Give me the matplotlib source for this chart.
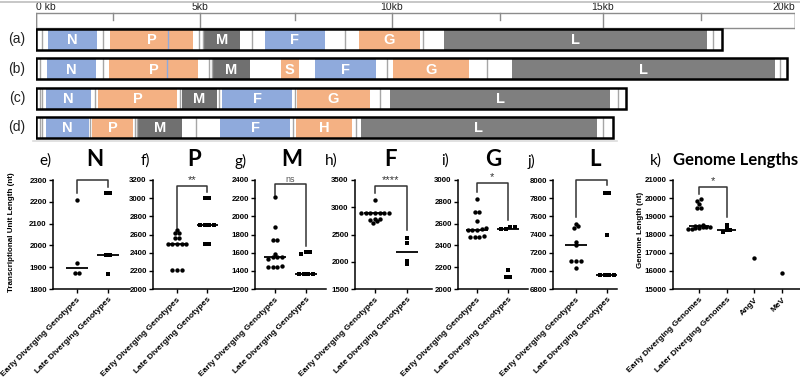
import numpy as np
import matplotlib.pyplot as plt
from matplotlib.patches import Rectangle
from matplotlib.lines import Line2D

plt.rcParams['font.family'] = ['Liberation Sans', 'DejaVu Sans']

W, H = 800, 378

# ---------------- genome maps (positions in kb) ----------------
ruler_kb = [0, 2.5, 5, 7.5, 10, 12.5, 15, 17.5, 20]
ruler_pos = [0, 77, 164, 259, 356, 464, 567, 665, 759]  # ruler in the source is not linear
ruler_labels = {0: '0 kb', 5: '5kb', 10: '10kb', 15: '15kb', 20: '20kb'}

row_names = ['(a)', '(b)', '(c)', '(d)']
genome_len = [18.06, 19.79, 15.59, 15.26]
genes_a = [('N', 0.39, 1.98), ('P', 2.40, 4.80), ('M', 5.11, 6.05), ('F', 6.71, 8.27),
           ('G', 9.15, 10.65), ('L', 11.20, 17.66)]
genes_b = [('N', 0.36, 1.95), ('P', 2.37, 4.94), ('M', 5.34, 6.32), ('S', 7.13, 7.60),
           ('F', 8.02, 9.59), ('G', 10.02, 11.78), ('L', 12.79, 19.47)]
genes_c = [('N', 0.32, 1.79), ('P', 2.01, 4.34), ('M', 4.48, 5.45), ('F', 5.58, 7.42),
           ('G', 7.55, 9.43), ('L', 9.95, 15.18)]
genes_d = [('N', 0.32, 1.72), ('P', 1.82, 3.07), ('M', 3.22, 4.48), ('F', 5.53, 7.37),
           ('H', 7.53, 8.97), ('L', 9.20, 14.85)]
junc_a = [0.19, 2.18, 4.97, 5.08, 6.37, 8.79, 10.72, 17.82]
junc_b = [0.13, 2.18, 5.24, 5.32, 9.87, 12.20, 19.60]
junc_c = [0.13, 0.19, 1.92, 4.43, 5.50, 7.50, 9.69, 15.38]
junc_d = [0.13, 0.19, 1.75, 3.13, 3.19, 4.89, 7.45, 9.08, 15.00]
p_split = [4.08, 4.05, None, None]

gene_colors = {'N': '#8faadc', 'F': '#8faadc', 'P': '#f4b183', 'G': '#f4b183',
               'S': '#f4b183', 'H': '#f4b183', 'M': '#707070', 'L': '#7f7f7f'}

# ---------------- transcriptional unit lengths (nt) ----------------
cats = ['Early Diverging Genotypes', 'Late Diverging Genotypes']
early_N = [2210, 1918, 1872, 1872]
late_N = [2242, 2242, 1956, 1956, 1869]
early_P = [2650, 2620, 2620, 2565, 2565, 2500, 2500, 2500, 2500, 2500, 2210, 2210, 2210]
late_P = [3000, 3000, 2700, 2700, 2700, 2700, 2500, 2500]
early_M = [2210, 1880, 1735, 1735, 1580, 1548, 1548, 1548, 1530, 1451, 1445, 1445, 1445]
late_M = [1590, 1605, 1605, 1360, 1360, 1360, 1360]
early_F = [3130, 2890, 2890, 2890, 2890, 2890, 2890, 2890, 2790, 2790, 2760, 2750, 2710]
late_F = [2440, 2350, 2010, 1960]
early_G = [2830, 2710, 2710, 2625, 2560, 2550, 2545, 2545, 2540, 2485, 2480, 2480, 2475]
late_G = [2565, 2555, 2555, 2565, 2170, 2110, 2110]
early_L = [7515, 7490, 7470, 7320, 7285, 7110, 7110, 7110, 7035]
late_L = [7860, 7860, 7390, 6955, 6955, 6955, 6955]

genome_cats = ['Early Diverging Genomes', 'Later Diverging Genomes', 'AngV', 'MeV']
early_genomes = [19950, 19850, 19700, 19480, 19460, 18520, 18480, 18450, 18420, 18400,
                 18390, 18370, 18350, 18330, 18300]
later_genomes = [18500, 18300, 18250, 18230, 18150]
angv = [16730]
mev = [15890]

fig = plt.figure(figsize=(8, 3.78), dpi=100)


def px(x0, y0, x1, y1):
    return [x0 / W, 1 - y1 / H, (x1 - x0) / W, (y1 - y0) / H]


# separator lines
fig.add_artist(Line2D([0, 1], [1 - 2 / H] * 2, color='#bdbdbd', lw=1.2))
fig.add_artist(Line2D([33 / W, 617 / W], [1 - 141 / H] * 2, color='#dcdcdc', lw=1.2))

top = fig.add_axes(px(36, 0, 795, 140))
fwd = lambda x: np.interp(x, ruler_kb, ruler_pos)
inv = lambda p: np.interp(p, ruler_pos, ruler_kb)
top.set_xscale('function', functions=(fwd, inv))
top.set_xlim(0, 20)
top.set_ylim(3.43, -1.347)
top.axis('off')

# ruler
top.add_patch(Rectangle((0, -0.904), 20, 0.512, fill=False, ec='#8c8c8c', lw=1))
for k in ruler_kb:
    y1 = -0.392 if k % 5 == 0 else -0.65
    top.plot([k, k], [-0.904, y1], color='#8c8c8c', lw=1)
    if k in ruler_labels:
        ha = 'left' if k == 0 else ('right' if k == 20 else 'center')
        top.text(k, -1.1, ruler_labels[k], ha=ha, va='center', fontsize=7.5, color='#222222')

h = 0.716
for i, (name, length, genes, junc, ps) in enumerate(zip(row_names, genome_len,
                                                         [genes_a, genes_b, genes_c, genes_d],
                                                         [junc_a, junc_b, junc_c, junc_d],
                                                         p_split)):
    y0 = i - h / 2
    for g, s, e in genes:
        top.add_patch(Rectangle((s, y0), e - s, h, color=gene_colors[g], lw=0))
        xm = inv((fwd(s) + fwd(e)) / 2)
        top.text(xm, i + 0.03, g, ha='center', va='center', color='white',
                 fontsize=10.5, fontweight='bold')
    top.vlines(junc, y0, y0 + h, color='#a6a6a6', lw=1)
    if ps is not None:
        top.vlines([ps], y0, y0 + h, color='#8faadc', lw=1)
    top.add_patch(Rectangle((0, y0), length, h, fill=False, ec='black', lw=1.8, zorder=4))
    top.text(-0.025, i, name, transform=top.get_yaxis_transform(), ha='center', va='center',
             fontsize=10, color='#222222')


# ---------------- scatter panels ----------------
def swarm(vals, tol, step):
    vals = np.asarray(vals, float)
    order = np.argsort(vals)
    offs = np.zeros(len(vals))
    groups, cur = [], [order[0]]
    for idx in order[1:]:
        if vals[idx] - vals[cur[0]] <= tol:
            cur.append(idx)
        else:
            groups.append(cur)
            cur = [idx]
    groups.append(cur)
    for grp in groups:
        n = len(grp)
        for k, idx in enumerate(grp):
            offs[idx] = (k - (n - 1) / 2) * step
    return offs


panels = [
    ('e)', 'N', [early_N, late_N], (1800, 2300, 100), '', (2300, 2240, 2268)),
    ('f)', 'P', [early_P, late_P], (2000, 3200, 200), '**', (3134, 2672, 3068)),
    ('g)', 'M', [early_M, late_M], (1200, 2400, 200), 'ns', (2352, 2240, 1671)),
    ('h)', 'F', [early_F, late_F], (1500, 3500, 500), '****', (3389, 3265, 2580)),
    ('i)', 'G', [early_G, late_G], (2000, 3000, 200), '*', (2975, 2890, 2630)),
    ('j)', 'L', [early_L, late_L], (6800, 8000, 200), '', (8000, 7590, 7945)),
    ('k)', 'Genome Lengths', [early_genomes, later_genomes, angv, mev], (15000, 21000, 1000), '*',
     (20630, 20220, 18940)),
]
# pixel layout: axis left, axis right, xlim, letter x, title x
layout = [
    (53, 130, (-0.774, 1.71), 45, 95),
    (153, 232, (-0.8, 1.83), 145, 194),
    (255, 326, (-0.645, 1.65), 241, 292),
    (355, 432, (-0.625, 1.78), 331, 391),
    (458, 528, (-0.61, 1.645), 445, 493),
    (553, 617, (-0.74, 1.32), 531, 595),
    (673, 800, (-0.94, 3.65), 656, 736),
]

for (letter, title, groups, (lo, hi, step), sig, (btop, bl, br)), (l, r, xl, lx, tx) in zip(panels, layout):
    ax = fig.add_axes(px(l, 180, r, 289))
    ax.set_xlim(*xl)
    ax.set_ylim(lo, hi)
    ax.set_yticks(np.arange(lo, hi + 1, step))
    unit_px = (r - l) / (xl[1] - xl[0])
    tol = 2.5 * (hi - lo) / 109
    dx = (3.6 if len(groups) > 2 else 4.6) / unit_px
    for j, vals in enumerate(groups):
        marker = 's' if j == 1 else 'o'
        xs = j + swarm(vals, tol, dx)
        ax.scatter(xs, vals, s=10, marker=marker, color='black', linewidths=0, zorder=3,
                   clip_on=False)
        if len(vals) > 1:
            ax.hlines(np.median(vals), j - 0.35, j + 0.35, color='black', lw=1.3, zorder=2)
    ax.plot([0, 0, 1, 1], [bl, btop, btop, br], color='#333333', lw=1.1, clip_on=False)
    if sig:
        ax.annotate(sig, (0.5, btop), xytext=(0, 0.5), textcoords='offset points',
                    ha='center', va='bottom', fontsize=6.5 if sig == 'ns' else 8,
                    color='#555555' if sig == 'ns' else '#333333', annotation_clip=False)
    labels = genome_cats if len(groups) > 2 else cats
    ax.set_xticks(range(len(groups)))
    ax.set_xticklabels(labels, rotation=45, ha='right', rotation_mode='anchor',
                       fontsize=6, fontweight='bold')
    for t in ax.get_yticklabels():
        t.set_fontweight('bold')
    ax.tick_params(axis='y', labelsize=5.7, length=3, width=1, pad=1.5)
    ax.tick_params(axis='x', length=3, width=1, pad=2)
    for s in ['top', 'right']:
        ax.spines[s].set_visible(False)
    for s in ['left', 'bottom']:
        ax.spines[s].set_linewidth(1.1)
    fig.text(lx / W, 1 - 161 / H, letter, ha='center', va='center', fontsize=11,
             family=['Lato', 'DejaVu Sans'])
    fig.text(tx / W, 1 - 160 / H, title, ha='center', va='center',
             fontsize=12 if len(title) > 1 else 16, fontweight='bold',
             family=['Lato', 'DejaVu Sans'])

fig.text(12 / W, 1 - 232 / H, 'Transcriptional Unit Length (nt)', rotation=90,
         ha='center', va='center', fontsize=5.8, fontweight='bold')
fig.text(641 / W, 1 - 230 / H, 'Genome Length (nt)', rotation=90,
         ha='center', va='center', fontsize=5.8, fontweight='bold')

fig.savefig('out.png', dpi=100)
